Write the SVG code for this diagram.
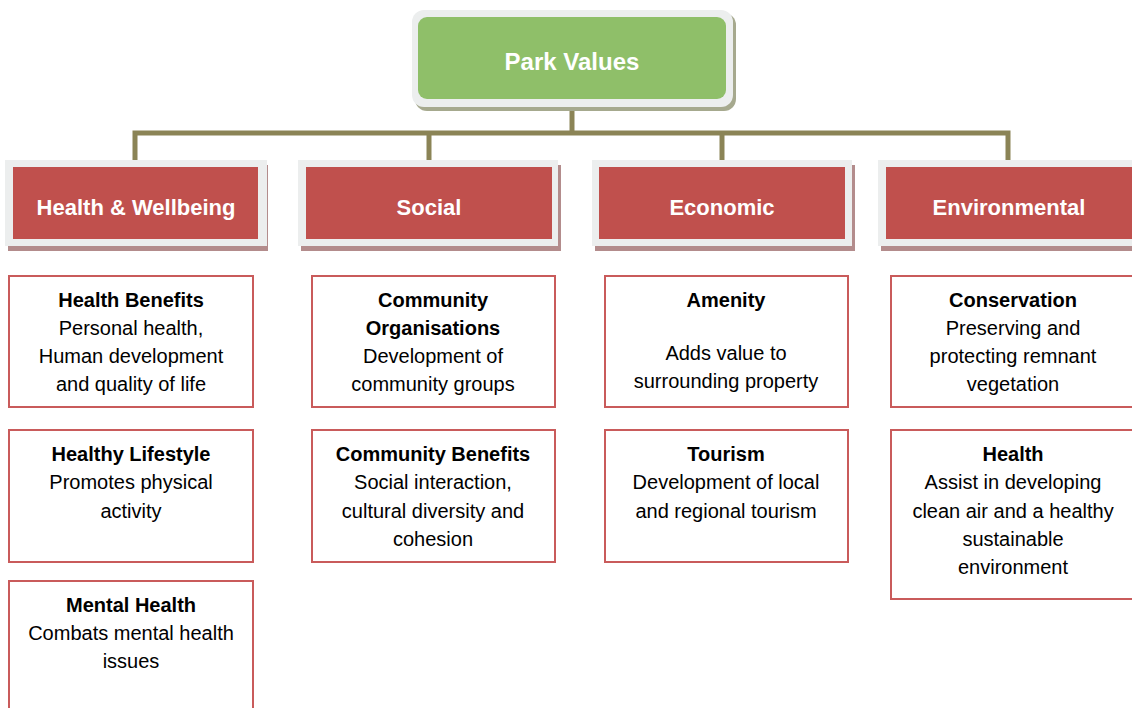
<svg xmlns="http://www.w3.org/2000/svg" width="1132" height="708" viewBox="0 0 1132 708">
<style>
.conn{fill:none;stroke:#8B8456;stroke-width:5}
.cshadow{fill:#B38C8C}
.cframe{fill:#ECEEEE}
.cbox{fill:#C0504D}
.ctext{font-family:"Liberation Sans",Arial,sans-serif;font-weight:bold;font-size:22px;fill:#fff;text-anchor:middle}
.box{fill:#fff;stroke:#C95B5B;stroke-width:2}
.t{font-family:"Liberation Sans",Arial,sans-serif;font-size:20px;fill:#000;text-anchor:middle}
.b{font-weight:bold}
</style>
<rect width="1132" height="708" fill="#fff"/>
<g id="connectors">
<path class="conn" d="M572 106V133"/>
<path class="conn" d="M135 160V133H1008V160"/>
<path class="conn" d="M429 133V160"/>
<path class="conn" d="M722 133V160"/>
</g>
<g id="park-values">
<rect x="415" y="13" width="321" height="98" rx="12" fill="#A6A98E"/>
<rect x="412" y="10" width="321" height="97" rx="12" fill="#ECEEEE"/>
<rect x="418" y="17" width="308" height="82" rx="9" fill="#8FBF69"/>
<text x="572" y="70" font-family="Liberation Sans, Arial, sans-serif" font-weight="bold" font-size="24" fill="#fff" text-anchor="middle">Park Values</text>
</g>
<g id="health-wellbeing">
<rect class="cshadow" x="8" y="165" width="260" height="86"/>
<rect class="cframe" x="5" y="160" width="262" height="86"/>
<rect class="cbox" x="13" y="167" width="245" height="72"/>
<text class="ctext" x="136" y="215">Health &amp; Wellbeing</text>
</g>
<g id="social">
<rect class="cshadow" x="301" y="165" width="260" height="86"/>
<rect class="cframe" x="298" y="160" width="260" height="86"/>
<rect class="cbox" x="306" y="167" width="246" height="72"/>
<text class="ctext" x="429" y="215">Social</text>
</g>
<g id="economic">
<rect class="cshadow" x="595" y="165" width="260" height="86"/>
<rect class="cframe" x="592" y="160" width="260" height="86"/>
<rect class="cbox" x="599" y="167" width="246" height="72"/>
<text class="ctext" x="722" y="215">Economic</text>
</g>
<g id="environmental">
<rect class="cshadow" x="881" y="165" width="262" height="86"/>
<rect class="cframe" x="878" y="160" width="262" height="86"/>
<rect class="cbox" x="886" y="167" width="248" height="72"/>
<text class="ctext" x="1009" y="215">Environmental</text>
</g>
<g id="health-benefits">
<rect class="box" x="9" y="276" width="244" height="131"/>
<text class="t"><tspan class="b" x="131" y="307">Health Benefits</tspan><tspan x="131" y="335">Personal health,</tspan><tspan x="131" y="363">Human development</tspan><tspan x="131" y="391">and quality of life</tspan></text>
</g>
<g id="healthy-lifestyle">
<rect class="box" x="9" y="430" width="244" height="132"/>
<text class="t"><tspan class="b" x="131" y="461">Healthy Lifestyle</tspan><tspan x="131" y="489">Promotes physical</tspan><tspan x="131" y="518">activity</tspan></text>
</g>
<g id="mental-health">
<rect class="box" x="9" y="581" width="244" height="140"/>
<text class="t"><tspan class="b" x="131" y="612">Mental Health</tspan><tspan x="131" y="640">Combats mental health</tspan><tspan x="131" y="668">issues</tspan></text>
</g>
<g id="community-organisations">
<rect class="box" x="312" y="276" width="243" height="131"/>
<text class="t"><tspan class="b" x="433" y="307">Community</tspan><tspan class="b" x="433" y="335">Organisations</tspan><tspan x="433" y="363">Development of</tspan><tspan x="433" y="391">community groups</tspan></text>
</g>
<g id="community-benefits">
<rect class="box" x="312" y="430" width="243" height="132"/>
<text class="t"><tspan class="b" x="433" y="461">Community Benefits</tspan><tspan x="433" y="489">Social interaction,</tspan><tspan x="433" y="518">cultural diversity and</tspan><tspan x="433" y="546">cohesion</tspan></text>
</g>
<g id="amenity">
<rect class="box" x="605" y="276" width="243" height="131"/>
<text class="t"><tspan class="b" x="726" y="307">Amenity</tspan><tspan x="726" y="360">Adds value to</tspan><tspan x="726" y="388">surrounding property</tspan></text>
</g>
<g id="tourism">
<rect class="box" x="605" y="430" width="243" height="132"/>
<text class="t"><tspan class="b" x="726" y="461">Tourism</tspan><tspan x="726" y="489">Development of local</tspan><tspan x="726" y="518">and regional tourism</tspan></text>
</g>
<g id="conservation">
<rect class="box" x="891" y="276" width="250" height="131"/>
<text class="t"><tspan class="b" x="1013" y="307">Conservation</tspan><tspan x="1013" y="335">Preserving and</tspan><tspan x="1013" y="363">protecting remnant</tspan><tspan x="1013" y="391">vegetation</tspan></text>
</g>
<g id="env-health">
<rect class="box" x="891" y="430" width="250" height="169"/>
<text class="t"><tspan class="b" x="1013" y="461">Health</tspan><tspan x="1013" y="489">Assist in developing</tspan><tspan x="1013" y="518">clean air and a healthy</tspan><tspan x="1013" y="546">sustainable</tspan><tspan x="1013" y="574">environment</tspan></text>
</g>
</svg>
